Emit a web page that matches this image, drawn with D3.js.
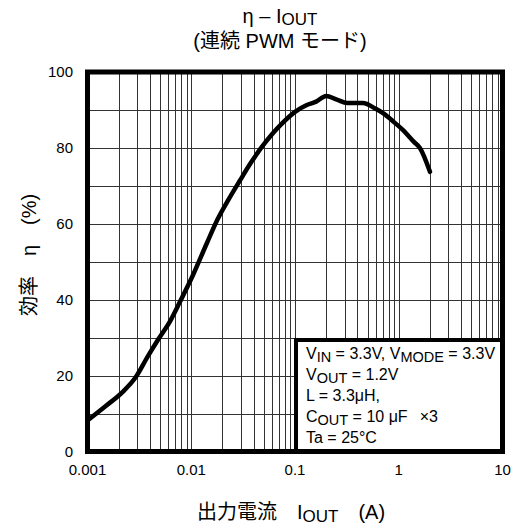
<!DOCTYPE html>
<html>
<head>
<meta charset="utf-8">
<script src="https://cdn.jsdelivr.net/npm/d3@7"></script>
<style>
  body { margin: 0; background: #fff; }
  text { font-family: "Liberation Sans", Arial, "Noto Sans CJK JP", sans-serif; fill: #000; }
</style>
</head>
<body>
<script>
// efficiency curve
var iout = [0.001, 0.0015, 0.0022, 0.0029, 0.0038, 0.0048, 0.0063, 0.0078, 0.0104, 0.0142,
            0.0178, 0.023, 0.0296, 0.037, 0.046, 0.06, 0.076, 0.1, 0.13, 0.16,
            0.2, 0.25, 0.32, 0.45, 0.6, 0.7, 0.9, 1.1, 1.4, 1.6, 2.0];
var eff  = [8.2, 12.0, 15.8, 19.5, 25.0, 29.5, 34.5, 39.5, 46.5, 55.0,
            61.0, 66.5, 71.5, 75.8, 79.6, 83.6, 86.6, 89.5, 91.3, 92.2,
            93.7, 92.8, 91.8, 91.8, 90.3, 89.2, 86.8, 84.7, 81.6, 80.0, 73.7];

var xTicks = [0.001, 0.01, 0.1, 1, 10];
var xTickLabels = ["0.001", "0.01", "0.1", "1", "10"];
var yTicks = [0, 20, 40, 60, 80, 100];
var yGrid = [10, 20, 30, 40, 50, 60, 70, 80, 90];

var W = 513, H = 527;
var pLeft = 87.5, pRight = 502.5, pTop = 72, pBottom = 451.5;

var svg = d3.select("body").append("svg")
    .attr("width", W)
    .attr("height", H);

var x = d3.scaleLog().domain([0.001, 10]).range([pLeft, pRight]);
var y = d3.scaleLinear().domain([0, 100]).range([pBottom, pTop]);

// vertical grid: 2..9 of every decade plus decade lines
var vGrid = [];
for (var d = -3; d < 1; d++) {
  for (var k = 1; k < 10; k++) {
    var v = k * Math.pow(10, d);
    if (v > 0.001) vGrid.push(v);
  }
}

svg.append("g")
  .selectAll("line")
  .data(vGrid)
  .enter()
  .append("line")
    .attr("x1", function(d) { return Math.round(x(d)) + 0.5; })
    .attr("x2", function(d) { return Math.round(x(d)) + 0.5; })
    .attr("y1", pTop)
    .attr("y2", pBottom)
    .attr("stroke", "#333")
    .attr("stroke-width", 1);

svg.append("g")
  .selectAll("line")
  .data(yGrid)
  .enter()
  .append("line")
    .attr("x1", pLeft)
    .attr("x2", pRight)
    .attr("y1", function(d) { return Math.round(y(d)) + 0.5; })
    .attr("y2", function(d) { return Math.round(y(d)) + 0.5; })
    .attr("stroke", "#333")
    .attr("stroke-width", 1);

// curve
var line = d3.line()
  .x(function(d, i) { return x(iout[i]); })
  .y(function(d) { return y(d); })
  .curve(d3.curveMonotoneX);

svg.append("path")
  .datum(eff)
  .attr("d", line)
  .attr("fill", "none")
  .attr("stroke", "#000")
  .attr("stroke-width", 4.5)
  .attr("stroke-linecap", "round")
  .attr("stroke-linejoin", "round");

// legend box
var lg = svg.append("g");
lg.append("rect")
  .attr("x", 296)
  .attr("y", 340)
  .attr("width", pRight - 296)
  .attr("height", pBottom - 340)
  .attr("fill", "#fff")
  .attr("stroke", "#000")
  .attr("stroke-width", 4);

// [text, isSubscript, dx]
var legendLines = [
  [["V", 0], ["IN", 1], [" = 3.3V, V", 0], ["MODE", 1], [" = 3.3V", 0]],
  [["V", 0], ["OUT", 1], [" = 1.2V", 0]],
  [["L = 3.3\u03bcH,", 0]],
  [["C", 0], ["OUT", 1], [" = 10 \u03bcF", 0], ["\u00d73", 0, 12]],
  [["Ta = 25\u00b0C", 0]]
];
var legendY = [359, 380, 401, 422, 443];

legendLines.forEach(function(parts, i) {
  var t = lg.append("text")
    .attr("x", 306)
    .attr("y", legendY[i])
    .style("font-size", "16px");
  var prevSub = 0;
  parts.forEach(function(p) {
    t.append("tspan")
      .attr("dy", p[1] ? 3 : (prevSub ? -3 : 0))
      .attr("dx", p[2] || 0)
      .style("font-size", p[1] ? "14.5px" : "16px")
      .text(p[0]);
    prevSub = p[1];
  });
});

// frame
svg.append("rect")
  .attr("x", pLeft)
  .attr("y", pTop)
  .attr("width", pRight - pLeft)
  .attr("height", pBottom - pTop)
  .attr("fill", "none")
  .attr("stroke", "#000")
  .attr("stroke-width", 5);

// tick labels
svg.append("g")
  .selectAll("text")
  .data(yTicks)
  .enter()
  .append("text")
    .attr("x", 73)
    .attr("y", function(d) { return y(d); })
    .attr("dy", "0.36em")
    .attr("text-anchor", "end")
    .style("font-size", "15px")
    .text(function(d) { return d; });

svg.append("g")
  .selectAll("text")
  .data(xTicks)
  .enter()
  .append("text")
    .attr("x", function(d) { return x(d); })
    .attr("y", 475)
    .attr("text-anchor", "middle")
    .style("font-size", "15px")
    .text(function(d, i) { return xTickLabels[i]; });

// title
var title = svg.append("text")
  .attr("x", 280)
  .attr("y", 23)
  .attr("text-anchor", "middle")
  .style("font-size", "20px");
title.append("tspan").text("\u03b7 \u2013 I");
title.append("tspan").attr("dy", 2).style("font-size", "17px").text("OUT");

svg.append("text")
  .attr("x", 280)
  .attr("y", 48)
  .attr("text-anchor", "middle")
  .style("font-size", "20px")
  .text("(\u9023\u7d9a PWM \u30e2\u30fc\u30c9)");

// axis titles
var xt = svg.append("text")
  .attr("x", 291)
  .attr("y", 519)
  .attr("text-anchor", "middle")
  .style("font-size", "20px");
xt.append("tspan").text("\u51fa\u529b\u96fb\u6d41\u3000I");
xt.append("tspan").attr("dy", 3).style("font-size", "17px").text("OUT");
xt.append("tspan").attr("dy", -3).text("\u3000(A)");

svg.append("text")
  .attr("transform", "translate(36,255) rotate(-90)")
  .attr("text-anchor", "middle")
  .style("font-size", "20px")
  .text("\u52b9\u7387\u3000\u03b7\u3000(%)");
</script>
</body>
</html>
